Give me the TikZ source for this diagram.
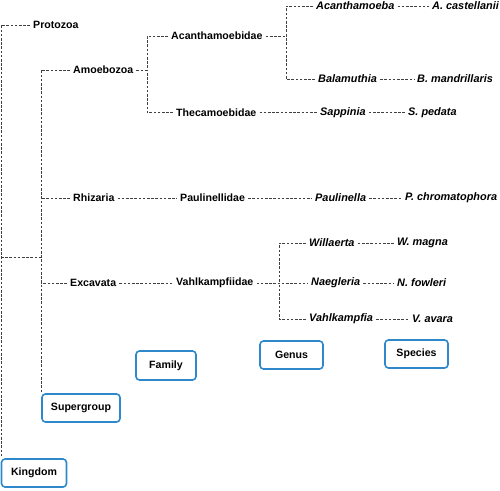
\documentclass[tikz,border=0pt]{standalone}
\usepackage{fontspec}
\setmainfont{Liberation Sans}
\begin{document}
\begin{tikzpicture}[x=1pt,y=-1pt,
  tx/.style={anchor=west,font=\fontsize{10.6}{12}\selectfont\bfseries,inner xsep=3pt,inner ysep=1pt,text=black},
  sp/.style={tx,font=\fontsize{10.9}{12}\selectfont\bfseries\itshape},
  dl/.style={draw=black!75,line width=0.85pt,dash pattern=on 2.6pt off 1.6pt},
  rank/.style={draw=rk,line width=1.6pt,rounded corners=3.5pt,font=\fontsize{10.6}{12}\selectfont\bfseries,text=black,inner sep=0pt,fill=white}]
\definecolor{rk}{HTML}{2E88C9}
\useasboundingbox[fill=white] (0,0) rectangle (500,490);
% text nodes
\node[tx] (protozoa) at (30,25) {Protozoa};
\node[tx] (amoebozoa) at (70,70) {Amoebozoa};
\node[tx] (acanthamoebidae) at (168,36) {Acanthamoebidae};
\node[tx] (thecamoebidae) at (173,112.5) {Thecamoebidae};
\node[sp] (acanthamoeba) at (313,6) {Acanthamoeba};
\node[sp] (acast) at (429,6) {A. castellanii};
\node[sp] (balamuthia) at (315,79) {Balamuthia};
\node[sp] (bmand) at (414,79) {B. mandrillaris};
\node[sp] (sappinia) at (317,112.5) {Sappinia};
\node[sp] (sped) at (405,112.5) {S. pedata};
\node[tx] (rhizaria) at (70,198) {Rhizaria};
\node[tx] (paulinellidae) at (177,198) {Paulinellidae};
\node[sp] (paulinella) at (312,198) {Paulinella};
\node[sp] (pchrom) at (402,198) {P. chromatophora};
\node[tx] (excavata) at (67,283) {Excavata};
\node[tx] (vahlkampfiidae) at (173,283) {Vahlkampfiidae};
\node[sp] (willaerta) at (306,243) {Willaerta};
\node[sp] (wmagna) at (394,243) {W. magna};
\node[sp] (naegleria) at (308,283) {Naegleria};
\node[sp] (nfowleri) at (394,283) {N. fowleri};
\node[sp] (vahlkampfia) at (306,319) {Vahlkampfia};
\node[sp] (vavara) at (409,319) {V. avara};
% rank boxes
\node[rank,minimum width=60pt,minimum height=29pt] (family) at (166,365.5) {Family};
\node[rank,minimum width=63pt,minimum height=28pt] (genus) at (291.5,355) {Genus};
\node[rank,minimum width=63pt,minimum height=28pt] (species) at (416.5,354) {Species};
\node[rank,minimum width=78pt,minimum height=28pt] (supergroup) at (81,408) {Supergroup};
\node[rank,minimum width=65pt,minimum height=28pt] (kingdom) at (34,473) {Kingdom};
% junction coordinates
\coordinate (kv) at (1,457);
\coordinate (kj) at (1,257);
\coordinate (sj) at (41,257);
\coordinate (sv) at (41,393);
\coordinate (aj) at (147,70);
\coordinate (cj) at (286,36);
\coordinate (vj) at (279,283);
% connectors
\draw[dl] (protozoa.west) -| (kv);
\draw[dl] (kj) -- (sj);
\draw[dl] (amoebozoa.west) -| (sv);
\draw[dl] (rhizaria.west) -- (rhizaria.west -| sv);
\draw[dl] (excavata.west) -- (excavata.west -| sv);
\draw[dl] (amoebozoa.east) -- (aj);
\draw[dl] (acanthamoebidae.west) -| (aj);
\draw[dl] (thecamoebidae.west) -| (aj);
\draw[dl] (acanthamoebidae.east) -- (cj);
\draw[dl] (acanthamoeba.west) -| (cj);
\draw[dl] (balamuthia.west) -| (cj);
\draw[dl] (acanthamoeba.east) -- (acast.west);
\draw[dl] (balamuthia.east) -- (bmand.west);
\draw[dl] (thecamoebidae.east) -- (sappinia.west);
\draw[dl] (sappinia.east) -- (sped.west);
\draw[dl] (rhizaria.east) -- (paulinellidae.west);
\draw[dl] (paulinellidae.east) -- (paulinella.west);
\draw[dl] (paulinella.east) -- (pchrom.west);
\draw[dl] (excavata.east) -- (vahlkampfiidae.west);
\draw[dl] (vahlkampfiidae.east) -- (naegleria.west);
\draw[dl] (willaerta.west) -| (vj);
\draw[dl] (vahlkampfia.west) -| (vj);
\draw[dl] (willaerta.east) -- (wmagna.west);
\draw[dl] (naegleria.east) -- (nfowleri.west);
\draw[dl] (vahlkampfia.east) -- (vavara.west);
\end{tikzpicture}
\end{document}
